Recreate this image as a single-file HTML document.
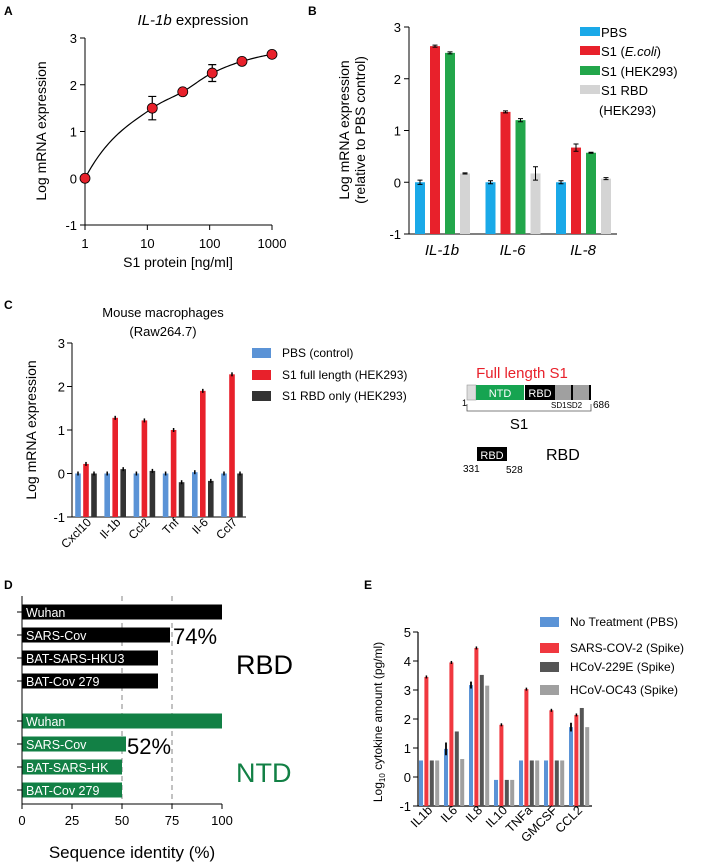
<!DOCTYPE html>
<html><head><meta charset="utf-8"><style>
body{margin:0;background:#fff}
svg{display:block;font-family:"Liberation Sans",Arial,sans-serif}
</style></head><body>
<svg id="fig" width="708" height="864" viewBox="0 0 708 864" xmlns="http://www.w3.org/2000/svg">
<g font-weight="bold" font-size="12">
<text x="4" y="15">A</text>
<text x="308" y="15">B</text>
<text x="4" y="309">C</text>
<text x="4" y="589">D</text>
<text x="364" y="589">E</text>
</g>
<g>
<text x="522" y="378" fill="#e8212b" font-size="15" text-anchor="middle">Full length S1</text>
<rect x="467" y="385" width="9" height="15" fill="#ddd" stroke="#999" stroke-width="0.6"/>
<rect x="476" y="385" width="48" height="15" fill="#16a451"/>
<text x="500" y="397" fill="#fff" font-size="11" text-anchor="middle">NTD</text>
<rect x="525" y="385" width="30" height="15" fill="#000"/>
<text x="540" y="397" fill="#fff" font-size="11" text-anchor="middle">RBD</text>
<rect x="555" y="385" width="20" height="15" fill="#a0a0a0"/>
<rect x="571" y="385" width="2" height="15" fill="#000"/>
<rect x="575" y="385" width="15" height="15" fill="#a0a0a0"/>
<rect x="589" y="385" width="2" height="15" fill="#000"/>
<text x="462" y="406" font-size="9">1</text>
<text x="551" y="408" font-size="8">SD1SD2</text>
<text x="593" y="408" font-size="10">686</text>
<path d="M467 404 V411 H591 V404" fill="none" stroke="#555" stroke-width="0.8"/>
<text x="519" y="429" font-size="15" text-anchor="middle">S1</text>
<rect x="477" y="447" width="30" height="14" fill="#000"/>
<text x="492" y="459" fill="#fff" font-size="11" text-anchor="middle">RBD</text>
<text x="463" y="472" font-size="10">331</text>
<text x="506" y="473" font-size="10">528</text>
<text x="546" y="460" font-size="16">RBD</text>
</g>
<g id="A"></g><g id="B"></g><g id="C"></g><g id="D"></g><g id="E"></g>
</svg>
<script>
// Panel A data
const aDoses=[1,12,37,110,330,1000];
const aMeans=[0,1.5,1.85,2.25,2.5,2.65];
const aErrs=[0.03,0.25,0.05,0.18,0.03,0.03];
const aYTicks=[-1,0,1,2,3];
const aXTicks=[1,10,100,1000];
// Panel B data
const bCats=['IL-1b','IL-6','IL-8'];
const bSeries=['PBS','S1 (E.coli)','S1 (HEK293)','S1 RBD (HEK293)'];
const bPBS=[0,0,0];
const bEcoli=[2.63,1.36,0.67];
const bHEK=[2.5,1.2,0.57];
const bRBD=[0.17,0.17,0.07];
const bErr=[[0.04,0.03,0.03],[0.02,0.02,0.07],[0.02,0.03,0.01],[0.01,0.13,0.02]];
const bYTicks=[-1,0,1,2,3];
// Panel C data
const cCats=['Cxcl10','Il-1b','Ccl2','Tnf','Il-6','Ccl7'];
const cSeries=['PBS (control)','S1 full length (HEK293)','S1 RBD only (HEK293)'];
const cPBS=[0,0,0,0,0.03,0];
const cFull=[0.22,1.28,1.22,1.0,1.9,2.28];
const cRBD=[0,0.1,0.06,-0.2,-0.17,0];
const cYTicks=[-1,0,1,2,3];
// Panel D data
const dStrains=['Wuhan','SARS-Cov','BAT-SARS-HKU3','BAT-Cov 279'];
const dNTDStrains=['Wuhan','SARS-Cov','BAT-SARS-HK','BAT-Cov 279'];
const dRBD=[100,74,68,68];
const dNTD=[100,52,50,50];
const dXTicks=[0,25,50,75,100];
// Panel E data
const eCats=['IL1b','IL6','IL8','IL10','TNFa','GMCSF','CCL2'];
const eSeries=['No Treatment (PBS)','SARS-COV-2 (Spike)','HCoV-229E (Spike)','HCoV-OC43 (Spike)'];
const ePBS=[0.57,0.97,3.17,-0.1,0.57,0.57,1.72];
const eSARS=[3.45,3.95,4.45,1.8,3.03,2.3,2.14];
const e229E=[0.57,1.57,3.52,-0.1,0.57,0.57,2.38];
const eOC43=[0.57,0.62,3.15,-0.1,0.57,0.57,1.72];
const ePBSErr=[0,0.22,0.12,0,0,0,0.15];
const eYTicks=[-1,0,1,2,3,4,5];

const NS='http://www.w3.org/2000/svg';
function mk(parent,tag,attrs,text){const e=document.createElementNS(NS,tag);for(const k in attrs)e.setAttribute(k,attrs[k]);if(text!==undefined)e.textContent=text;parent.appendChild(e);return e;}
function lin(d0,d1,r0,r1){return v=>r0+(v-d0)*(r1-r0)/(d1-d0);}

// ---- Panel A
(function(){
const g=document.getElementById('A');
const x=v=>85+Math.log10(v)*(187/3), y=lin(-1,3,225,38);
let t=mk(g,'text',{x:193,y:25,'font-size':15,'text-anchor':'middle'});

mk(t,'tspan',{'font-style':'italic'},'IL-1b');mk(t,'tspan',{},' expression');
let ax=mk(g,'path',{d:`M85 ${y(3)} V225 H${x(1000)}`,stroke:'#000',fill:'none','stroke-width':1});

aYTicks.forEach(v=>{mk(g,'line',{x1:80,x2:85,y1:y(v),y2:y(v),stroke:'#000'});
 const l=mk(g,'text',{x:77,y:y(v)+5,'font-size':13,'text-anchor':'end'},v);});
aXTicks.forEach(v=>{mk(g,'line',{x1:x(v),x2:x(v),y1:225,y2:230,stroke:'#000'});
 const l=mk(g,'text',{x:x(v),y:248,'font-size':13,'text-anchor':'middle'},v);});
let xl=mk(g,'text',{x:178,y:267,'font-size':14,'text-anchor':'middle'},'S1 protein [ng/ml]');

let yl=mk(g,'text',{transform:'translate(46,131) rotate(-90)','font-size':14,'text-anchor':'middle'},'Log mRNA expression');

// monotone cubic Hermite in log space
const X=aDoses.map(d=>Math.log10(d)), Y=aMeans, n=X.length;
const sec=[];for(let i=0;i<n-1;i++)sec.push((Y[i+1]-Y[i])/(X[i+1]-X[i]));
const m=[];m[0]=sec[0]*1.8;m[n-1]=sec[n-2]*0.7;
for(let i=1;i<n-1;i++)m[i]=(sec[i-1]*sec[i]<=0)?0:2/(1/sec[i-1]+1/sec[i]);
let dstr='';
for(let i=0;i<n-1;i++){const h=X[i+1]-X[i];
 for(let k=0;k<=20;k++){const tt=k/20,t2=tt*tt,t3=t2*tt;
  const v=(2*t3-3*t2+1)*Y[i]+(t3-2*t2+tt)*h*m[i]+(-2*t3+3*t2)*Y[i+1]+(t3-t2)*h*m[i+1];
  const px=85+(X[i]+tt*h)*(187/3);dstr+=(dstr?' L':'M')+px.toFixed(2)+' '+y(v).toFixed(2);}}
let c=mk(g,'path',{d:dstr,fill:'none',stroke:'#000','stroke-width':1.2});

aDoses.forEach((d,i)=>{const cx=x(d);
 mk(g,'path',{d:`M${cx} ${y(aMeans[i]-aErrs[i])} V${y(aMeans[i]+aErrs[i])} M${cx-4} ${y(aMeans[i]-aErrs[i])} h8 M${cx-4} ${y(aMeans[i]+aErrs[i])} h8`,stroke:'#000','stroke-width':1.2});
 const p=mk(g,'circle',{cx:cx,cy:y(aMeans[i]),r:5,fill:'#e8212b',stroke:'#000','stroke-width':0.8});
 });
})();

// ---- Panel B
(function(){
const g=document.getElementById('B');
const y=lin(-1,3,234,27);
const cols=['#1aa9e8','#e8212b','#22a64a','#d4d4d4'];
const vals=[bPBS,bEcoli,bHEK,bRBD];
mk(g,'path',{d:`M409 27 V234 H617`,stroke:'#000',fill:'none'});
bYTicks.forEach(v=>{mk(g,'line',{x1:404,x2:409,y1:y(v),y2:y(v),stroke:'#000'});
 const l=mk(g,'text',{x:401,y:y(v)+5,'font-size':13,'text-anchor':'end'},v);});
bCats.forEach((c,i)=>{const base=420+i*70.5;
 vals.forEach((arr,s)=>{const cx=base+s*15;const v=arr[i];
  const r=mk(g,'rect',{x:cx-5,y:Math.min(y(v),y(-1)),width:10,height:Math.abs(y(-1)-y(v)),fill:cols[s]});
  
  const e=bErr[s][i];
  mk(g,'path',{d:`M${cx} ${y(v-e)} V${y(v+e)} M${cx-2.5} ${y(v+e)} h5 M${cx-2.5} ${y(v-e)} h5`,stroke:'#000','stroke-width':1});});
 const l=mk(g,'text',{x:base+22,y:255,'font-size':15,'font-style':'italic','text-anchor':'middle'},c);
 });
let y1=mk(g,'text',{transform:'translate(349,130) rotate(-90)','font-size':14,'text-anchor':'middle'},'Log mRNA expression');

let y2=mk(g,'text',{transform:'translate(365,130) rotate(-90)','font-size':14,'text-anchor':'middle'},'(relative to PBS control)');

const ly=[32,51,71,90];
bSeries.forEach((s,i)=>{const r=mk(g,'rect',{x:580,y:ly[i]-5,width:20,height:9,fill:cols[i]});
 
 const t=mk(g,'text',{x:601,y:ly[i]+5,'font-size':13});
 if(i==1){mk(t,'tspan',{},'S1 (');mk(t,'tspan',{'font-style':'italic'},'E.coli');mk(t,'tspan',{},')');}
 else if(i==3){t.textContent='S1 RBD';const t2=mk(g,'text',{x:599,y:ly[i]+25,'font-size':13},'(HEK293)');}
 else t.textContent=s;});
})();

// ---- Panel C
(function(){
const g=document.getElementById('C');
const y=lin(-1,3,517,343);
const cols=['#5b93d6','#e8212b','#333'];
const vals=[cPBS,cFull,cRBD];
mk(g,'text',{x:163,y:317,'font-size':13,'text-anchor':'middle'},'Mouse macrophages');
mk(g,'text',{x:163,y:336,'font-size':13,'text-anchor':'middle'},'(Raw264.7)');
mk(g,'path',{d:`M72 343 V517 H246`,stroke:'#000',fill:'none'});
cYTicks.forEach(v=>{mk(g,'line',{x1:67,x2:72,y1:y(v),y2:y(v),stroke:'#000'});
 const l=mk(g,'text',{x:65,y:y(v)+5,'font-size':13,'text-anchor':'end'},v);});
cCats.forEach((c,i)=>{const base=78+i*29.2;
 vals.forEach((arr,s)=>{const cx=base+s*8;const v=arr[i];
  const r=mk(g,'rect',{x:cx-2.8,y:y(v),width:5.6,height:y(-1)-y(v),fill:cols[s]});
  
  mk(g,'line',{x1:cx,x2:cx,y1:y(v)-2,y2:y(v)+2,stroke:'#000','stroke-width':1.5});});
 const l=mk(g,'text',{transform:`translate(${base+14},523) rotate(-45)`,'font-size':12,'text-anchor':'end'},c);
 });
let yl=mk(g,'text',{transform:'translate(36,430) rotate(-90)','font-size':14,'text-anchor':'middle'},'Log mRNA expression');

const ly=[353,375,396];
cSeries.forEach((s,i)=>{const r=mk(g,'rect',{x:252,y:ly[i]-5,width:19,height:10,fill:cols[i]});
 
 const t=mk(g,'text',{x:282,y:ly[i]+4,'font-size':12},s);});
})();

// ---- Panel D
(function(){
const g=document.getElementById('D');
const x=lin(0,100,22,222);
const rowsR=[612,635,658,681], rowsN=[721,744,767,790];
[50,75].forEach(v=>mk(g,'line',{x1:x(v),x2:x(v),y1:596,y2:804,stroke:'#666','stroke-dasharray':'5,4','stroke-width':0.8}));
function draw(vals,names,rows,col,tag){vals.forEach((v,i)=>{
 const r=mk(g,'rect',{x:x(0),y:rows[i]-7.5,width:x(v)-x(0),height:15,fill:col});
 
 mk(g,'line',{x1:17,x2:22,y1:rows[i],y2:rows[i],stroke:'#000'});
 const t=mk(g,'text',{x:26,y:rows[i]+5,'font-size':12.5,fill:'#fff'},names[i]);});}
draw(dRBD,dStrains,rowsR,'#000','rbd');
draw(dNTD,dNTDStrains,rowsN,'#128045','ntd');
mk(g,'path',{d:`M22 596 V804 H222`,stroke:'#000',fill:'none'});
dXTicks.forEach(v=>{mk(g,'line',{x1:x(v),x2:x(v),y1:804,y2:809,stroke:'#000'});
 const l=mk(g,'text',{x:x(v),y:825,'font-size':13,'text-anchor':'middle'},v);});
const xl=mk(g,'text',{x:132,y:858,'font-size':17,'text-anchor':'middle'},'Sequence identity (%)');
mk(g,'text',{x:x(dRBD[1])+3,y:644,'font-size':22},dRBD[1]+'%');
mk(g,'text',{x:x(dNTD[1])+1,y:754,'font-size':22},dNTD[1]+'%');
mk(g,'text',{x:236,y:674,'font-size':27},'RBD');
mk(g,'text',{x:236,y:782,'font-size':27,fill:'#128045'},'NTD');
})();

// ---- Panel E
(function(){
const g=document.getElementById('E');
const y=lin(-1,5,806,632);
const cols=['#5b93d6','#f0383f','#555','#a0a0a0'];
const vals=[ePBS,eSARS,e229E,eOC43];
mk(g,'path',{d:`M418 632 V806 H592`,stroke:'#000',fill:'none','stroke-width':1.2});
eYTicks.forEach(v=>{mk(g,'line',{x1:413,x2:418,y1:y(v),y2:y(v),stroke:'#000'});
 const l=mk(g,'text',{x:411,y:y(v)+5,'font-size':13,'text-anchor':'end'},v);});
eCats.forEach((c,i)=>{const base=421+i*25;
 vals.forEach((arr,s)=>{const cx=base+s*5.4;const v=arr[i];
  const r=mk(g,'rect',{x:cx-2,y:y(v),width:4,height:y(-1)-y(v),fill:cols[s]});
  
  if(s==1) mk(g,'line',{x1:cx,x2:cx,y1:y(v)-1.5,y2:y(v)+1.5,stroke:'#000','stroke-width':1.5});
  if(s==0&&ePBSErr[i]>0) mk(g,'line',{x1:cx,x2:cx,y1:y(v+ePBSErr[i]),y2:y(v-ePBSErr[i]),stroke:'#000','stroke-width':1.8});});
 const l=mk(g,'text',{transform:`translate(${base+12},811) rotate(-45)`,'font-size':12.5,'text-anchor':'end'},c);
 });
const yl=mk(g,'text',{transform:'translate(382,722) rotate(-90)','font-size':12,'text-anchor':'middle'});

mk(yl,'tspan',{},'Log');mk(yl,'tspan',{'font-size':8,dy:3},'10');mk(yl,'tspan',{dy:-3},' cytokine amount (pg/ml)');
const ly=[622,648,667,690];
eSeries.forEach((s,i)=>{const r=mk(g,'rect',{x:540,y:ly[i]-5,width:19,height:10,fill:cols[i]});
 
 const t=mk(g,'text',{x:570,y:ly[i]+4,'font-size':12},s);});
})();
</script>
</body></html>
